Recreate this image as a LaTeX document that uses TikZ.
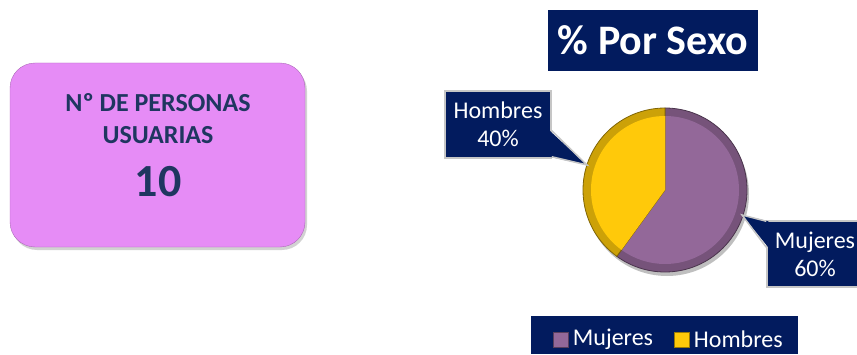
\documentclass[tikz,border=0pt]{standalone}
\usepackage{fontspec}
\setmainfont{Carlito}
\usetikzlibrary{positioning,shadows}
\definecolor{navy}{HTML}{021B5E}
\definecolor{lila}{HTML}{E68CF6}
\definecolor{tinta}{HTML}{1F3660}
\definecolor{mujer}{HTML}{936899}
\definecolor{hombre}{HTML}{FFC90A}
\begin{document}
\begin{tikzpicture}[
        x=1pt, y=1pt,
        counter/.style={draw=lila!75!black, fill=lila, rounded corners=25pt, minimum width=295pt, minimum height=184pt, drop shadow={shadow xshift=2pt, shadow yshift=-3pt, fill=black!35}},
        countertext/.style={text=tinta, font=\bfseries\fontsize{26}{26}\selectfont},
        banner/.style={fill=navy, text=white, font=\bfseries\fontsize{42}{42}\selectfont, minimum width=210pt, minimum height=61pt, inner sep=0pt},
        callout/.style={fill=navy, draw=gray!45, line width=1.5pt, text=white, align=center, font=\fontsize{24}{28}\selectfont, inner sep=0pt},
        keybox/.style={fill=navy, minimum width=267pt, minimum height=38pt},
        keytext/.style={text=white, font=\fontsize{24}{24}\selectfont, inner sep=1pt}
    ]
    \useasboundingbox (0,0) rectangle (857,354);
    % Users counter
    \node[counter] (contador) at (157.5,199) {};
    \node[countertext] (linea1) at (158,251) {Nº DE PERSONAS};
    \node[countertext] (linea2) at (158,219) {USUARIAS};
    \node[countertext, font=\bfseries\fontsize{46}{46}\selectfont] (total) at (158,172) {10};
    % Pie chart by sex
    \node[banner] (titulo) at (653,313.5) {\% Por Sexo};
    \coordinate (centro) at (665,164);
    \fill[black!25] ([xshift=2pt,yshift=-4pt]centro) circle (82);
    \foreach \desde/\hasta/\tono in {90/-126/mujer, -126/-270/hombre} {
        \fill[\tono!80!black, draw=\tono!50!black, line width=0.8pt] (centro) -- ++(\desde:82) arc[start angle=\desde, end angle=\hasta, radius=82] -- cycle;
        \fill[\tono] (centro) -- ++(\desde:74) arc[start angle=\desde, end angle=\hasta, radius=74] -- cycle;
    }
    \coordinate (puntah) at (587,189);
    \coordinate (puntam) at (742,139);
    \node[callout, minimum width=106pt, minimum height=67pt] (hombres) at (498,229.5) {Hombres\\40\%};
    \node[callout, minimum width=96pt, minimum height=66pt] (mujeres) at (815,100) {Mujeres\\60\%};
    \fill[navy] ([xshift=-2pt,yshift=2pt]hombres.south east) -- (puntah) -- ([xshift=-2pt,yshift=28pt]hombres.south east) -- cycle;
    \draw[gray!45, line width=1.5pt] ([yshift=2pt]hombres.south east) -- (puntah) -- ([yshift=28pt]hombres.south east);
    \fill[navy] ([xshift=2pt,yshift=-1pt]mujeres.north west) -- (puntam) -- ([xshift=2pt,yshift=-27pt]mujeres.north west) -- cycle;
    \draw[gray!45, line width=1.5pt] ([yshift=-1pt]mujeres.north west) -- (puntam) -- ([yshift=-27pt]mujeres.north west);
    % Legend
    \node[keybox] (leyenda) at (664.5,19) {};
    \node[fill=mujer, draw=mujer!60!black, minimum size=15pt, inner sep=0pt] (cmujer) at (561,14.5) {};
    \node[keytext, right=3pt of cmujer] (tmujer) {Mujeres};
    \node[fill=hombre, draw=hombre!60!black, minimum size=15pt, inner sep=0pt] (chombre) at (682,14.5) {};
    \node[keytext, right=3pt of chombre] (thombre) {Hombres};
\end{tikzpicture}
\end{document}
